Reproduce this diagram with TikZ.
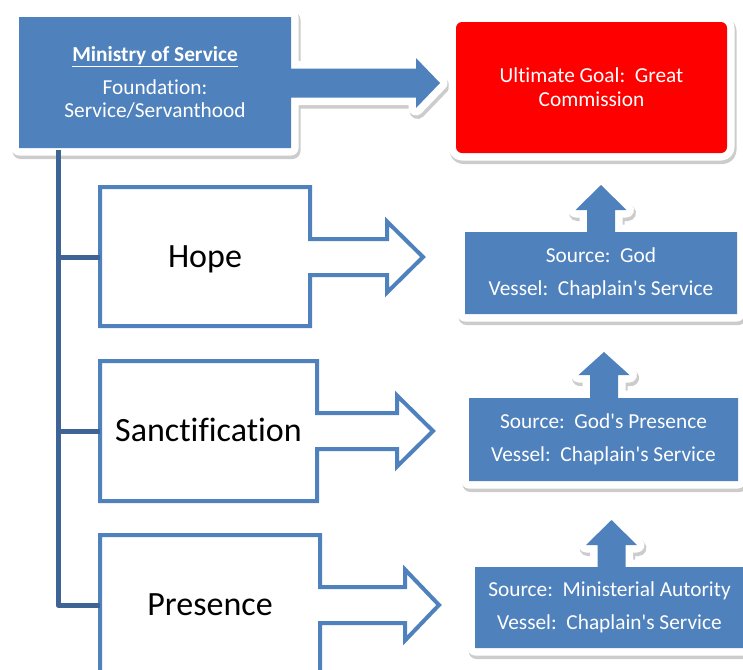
\documentclass[tikz,border=0pt]{standalone}
\usepackage{fontspec}
\setmainfont{Carlito}[Ligatures=NoCommon]
\definecolor{boxblue}{RGB}{79,129,189}
\definecolor{trunkblue}{RGB}{62,100,150}
\begin{document}
\begin{tikzpicture}[x=0.75pt, y=-0.75pt, line join=round,
  font=\fontsize{16}{17.5}\selectfont,
  halo/.style={preaction={draw=black, fill=black, opacity=.2, line width=12pt, transform canvas={shift={(1.5,3)}}},
    preaction={draw=white, fill=white, line width=11.25pt}},
  bluebox/.style={halo, fill=boxblue},
  lanebox/.style={draw=boxblue, fill=white, line width=3pt, line join=miter},
  trunk/.style={draw=trunkblue, line width=3.75pt},
  label/.style={text=white, align=center, inner sep=0pt},
  lane/.style={inner sep=0pt, minimum height=104.25pt, text height=16.4pt, text depth=0pt, font=\fontsize{25.5}{30}\selectfont}]
\useasboundingbox (0,0) rectangle (743,669);
\clip (0,0) rectangle (743,669);
% top box with its arrow, then the goal
\path[bluebox] (19,17) -- (291,17) -- (291,68.5) -- (416,68.5) -- (416,58) -- (440,83) -- (416,108) -- (416,97.5) -- (291,97.5) -- (291,148) -- (19,148) -- cycle;
\path[halo, fill=red, rounded corners=4.5pt] (456,22) rectangle (727,153);
% source boxes, arrow up
\foreach \lx/\ty/\rx/\by/\ax/\tip/\base in {465/232/737/314/601/185/210, 469/398/738/481/604/352/375, 475/567/744/648/611.5/520/545}
  \path[bluebox] (\lx,\ty) -- (\ax-14,\ty) -- (\ax-14,\base) -- (\ax-25.5,\base) -- (\ax,\tip) -- (\ax+25.5,\base) -- (\ax+14,\base) -- (\ax+14,\ty) -- (\rx,\ty) -- (\rx,\by) -- (\lx,\by) -- cycle;
% lanes
\foreach \n/\txt/\w/\cx/\ty/\rx/\by/\hx/\tip/\cy in {hope/Hope/157.5pt/205/187/310/326/387/423/257, sanct/Sanctification/162.75pt/208.5/361/317/501/397/433/431, presence/Presence/165pt/210/535/320/675/405/439/605}{
  \path[lanebox] (100,\ty) -- (\rx,\ty) -- (\rx,\cy-18) -- (\hx,\cy-18) -- (\hx,\cy-35.5) -- (\tip,\cy) -- (\hx,\cy+35.5) -- (\hx,\cy+18) -- (\rx,\cy+18) -- (\rx,\by) -- (100,\by) -- cycle;
  \node[lane, minimum width=\w] (\n) at (\cx,\cy) {\txt};
}
\node[label, minimum width=204pt, minimum height=98.25pt] (service) at (155,82.5) {\underline{\textbf{Ministry of Service}}\\[7.25pt]Foundation:\\Service/Servanthood};
\node[label] (goal) at (591.5,87.5) {Ultimate Goal:\ \ Great\\[0.5pt]Commission};
\node[label] (srcA) at (601,273) {Source:\ \ God\\[7.25pt]Vessel:\ \ Chaplain\textquotesingle s Service};
\node[label] (srcB) at (603.5,439.5) {Source:\ \ God\textquotesingle s Presence\\[7.25pt]Vessel:\ \ Chaplain\textquotesingle s Service};
\node[label] (srcC) at (609.5,607.5) {Source:\ \ Ministerial Autority\\[7.25pt]Vessel:\ \ Chaplain\textquotesingle s Service};
% tree
\coordinate (root) at (58,150);
\draw[trunk] (root) |- (presence.west);
\draw[trunk] (root |- hope.west) -- (hope.west);
\draw[trunk] (root |- sanct.west) -- (sanct.west);
\end{tikzpicture}
\end{document}
